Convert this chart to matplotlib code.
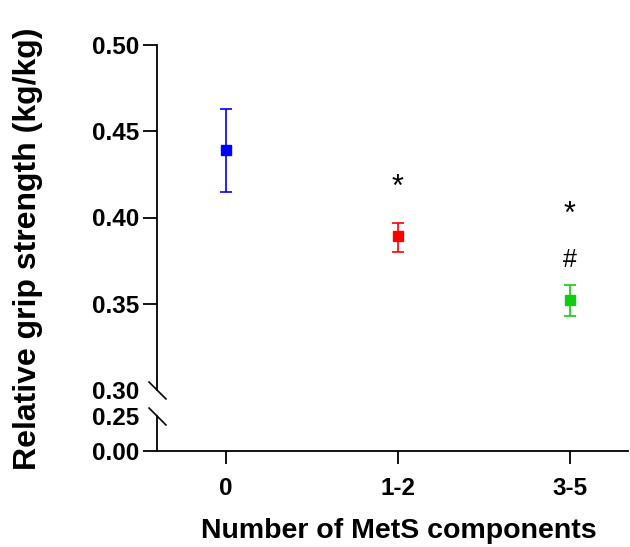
import matplotlib.pyplot as plt
import numpy as np

plt.rcParams['font.family'] = ['Liberation Sans', 'DejaVu Sans']

# group data
groups = ['0', '1-2', '3-5']
means = [0.439, 0.389, 0.352]
err_low = [0.415, 0.380, 0.343]
err_high = [0.463, 0.397, 0.361]
colors = ['#0000ff', '#ff0000', '#11cc11']

# significance marks: (group index, y value, symbol)
sig_marks = [(1, 0.4172, '*'), (2, 0.4015, '*'), (2, 0.3755, '#')]

upper_ticks = [0.30, 0.35, 0.40, 0.45, 0.50]
lower_ticks = [0.00, 0.25]

W, H = 630, 547
fig = plt.figure(figsize=(W / 100, H / 100), dpi=100)

left = 157 / W
right = 628 / W
ax_up = fig.add_axes([left, 1 - 390 / H, right - left, (390 - 45) / H])
ax_lo = fig.add_axes([left, 1 - 451 / H, right - left, (451 - 416) / H])

tick_fs = 17.5
x = np.arange(len(groups))
lw = 1.3
for ax in (ax_up, ax_lo):
    for i in range(len(groups)):
        yerr = [[means[i] - err_low[i]], [err_high[i] - means[i]]]
        ax.errorbar(x[i], means[i], yerr=yerr, fmt='s', color=colors[i],
                    ecolor=colors[i], elinewidth=1.2, capsize=4.5, capthick=1.2,
                    markersize=7, clip_on=True)
    ax.set_xlim(-0.4, 2.34)
    for s in ('top', 'right'):
        ax.spines[s].set_visible(False)
    ax.spines['left'].set_linewidth(lw)
    ax.spines['bottom'].set_linewidth(lw)
    ax.tick_params(axis='y', length=10, width=lw, pad=3)

ax_up.set_ylim(0.30, 0.50)
ax_up.spines['bottom'].set_visible(False)
ax_up.set_yticks(upper_ticks)
ax_up.set_yticklabels([f'{v:.2f}' for v in upper_ticks], fontweight='bold', fontsize=tick_fs)
ax_up.yaxis.get_major_ticks()[0].tick1line.set_visible(False)
ax_up.set_xticks([])

ax_lo.set_ylim(0.0, 0.25)
ax_lo.set_yticks(lower_ticks)
ax_lo.set_yticklabels([f'{v:.2f}' for v in lower_ticks], fontweight='bold', fontsize=tick_fs)
ax_lo.yaxis.get_major_ticks()[1].tick1line.set_visible(False)
ax_lo.set_xticks(x)
ax_lo.set_xticklabels(groups, fontweight='bold', fontsize=tick_fs)
ax_lo.tick_params(axis='x', length=9, width=lw, pad=10)

# significance symbols
for gi, yv, sym in sig_marks:
    ax_up.text(x[gi], yv, sym, ha='center', va='center',
               fontsize=22 if sym == '*' else 18, color='black')

# axis break marks
brk = dict(marker=[(-1, 1), (1, -1)], markersize=13, linestyle='none',
           color='k', mec='k', mew=1.2, clip_on=False)
ax_up.plot([0], [0], transform=ax_up.transAxes, **brk)
ax_lo.plot([0], [1], transform=ax_lo.transAxes, **brk)

fig.text(28 / W, 1 - 249 / H, 'Relative grip strength (kg/kg)', rotation=90,
         ha='center', va='center', fontsize=23, fontweight='bold')
fig.text(399 / W, 3 / H, 'Number of MetS components',
         ha='center', va='bottom', fontsize=20.5, fontweight='bold')

fig.savefig('out.png', dpi=100)
